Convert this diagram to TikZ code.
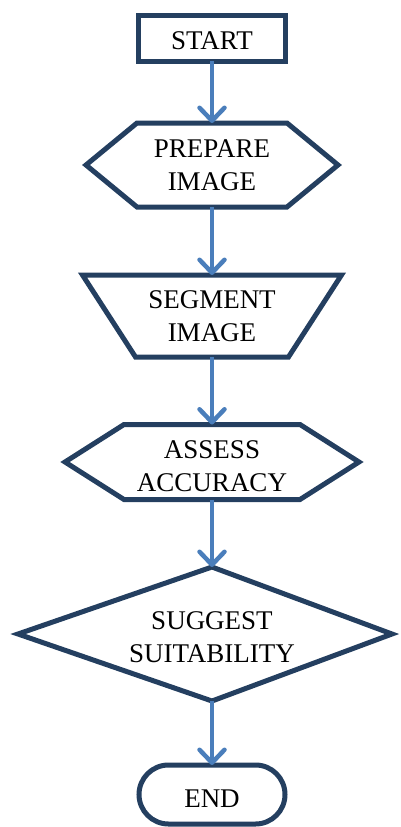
\documentclass[tikz,border=0pt]{standalone}
\usepackage{fontspec}
\setmainfont{Liberation Serif}
\usetikzlibrary{arrows.meta}
\definecolor{edge}{HTML}{243F60}
\definecolor{flow}{HTML}{4A7EBB}
\tikzset{
 stage/.style={inner sep=0pt,outer sep=0pt,align=center,font=\fontsize{27}{33}\selectfont},
 outline/.style={draw=edge,line width=5pt},
 link/.style={draw=flow,line width=4pt,-{Straight Barb[length=13pt,width=25pt,line width=4.5pt,round]}}
}
\begin{document}
\begin{tikzpicture}[x=1pt,y=-1pt]
\useasboundingbox (0,0) rectangle (400,827);
\node[stage,outline,text height=23.6pt,text depth=0pt,minimum width=147pt,minimum height=46pt](start)at(212,38){START};

\node[stage,minimum width=252pt,minimum height=84pt](prep)at(212,165){PREPARE\\IMAGE};
\draw[outline](prep.west)--([xshift=51pt]prep.north west)--([xshift=-51pt]prep.north east)
 --(prep.east)--([xshift=-51pt]prep.south east)--([xshift=51pt]prep.south west)--cycle;

\node[stage,minimum width=259pt,minimum height=82pt](seg)at(212,316){SEGMENT\\IMAGE};
\draw[outline](seg.north west)--(seg.north east)--([xshift=-53pt]seg.south east)
 --([xshift=53pt]seg.south west)--cycle;

\node[stage,text height=58.6pt,text depth=0pt,minimum width=294pt,minimum height=75pt](assess)at(212,462){ASSESS\\ACCURACY};
\draw[outline](assess.west)--([xshift=59pt]assess.north west)--([xshift=-59pt]assess.north east)
 --(assess.east)--([xshift=-59pt]assess.south east)--([xshift=59pt]assess.south west)--cycle;

\node[stage,text height=56.2pt,text depth=0pt,minimum height=134pt](suggest)at(212,634){SUGGEST\\SUITABILITY};
\draw[outline]([xshift=-194pt]suggest.center)--(suggest.north)--([xshift=180pt]suggest.center)
 --(suggest.south)--cycle;

\node[stage,outline,text height=25.5pt,text depth=0pt,rounded corners=29.5pt,minimum width=146pt,minimum height=59pt](stop)at(212,794.5){END};

\foreach \a/\b in {start/prep,prep/seg,seg/assess,assess/suggest,suggest/stop}
 \draw[link](\a)--(\b);
\end{tikzpicture}
\end{document}
